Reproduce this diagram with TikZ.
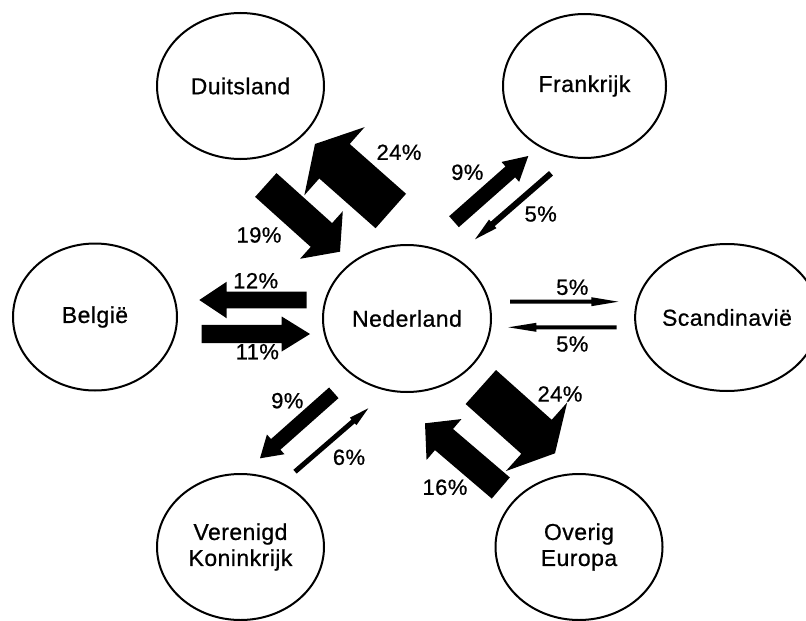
\documentclass[tikz,border=0pt]{standalone}
\usepackage{fontspec}
\setmainfont{Liberation Sans}
\newfontfamily\lblfamily{Liberation Sans}[FakeBold=0.7, LetterSpace=2.0]
\usetikzlibrary{shapes.geometric,calc}

% block arrow: #1 tail, #2 tip, #3 half shaft width, #4 half head width, #5 head length
\newcommand\blockarrow[5]{%
  \coordinate (ba-h) at ($(#2)!#5!(#1)$);
  \fill[black] ($(#1)!#3!90:(#2)$) -- ($(ba-h)!#3!90:(#2)$) -- ($(ba-h)!#4!90:(#2)$)
    -- (#2) -- ($(ba-h)!#4!-90:(#2)$) -- ($(ba-h)!#3!-90:(#2)$) -- ($(#1)!#3!-90:(#2)$) -- cycle;}

\newcommand\namefont{\lblfamily\fontsize{23}{26}\selectfont}
\newcommand\pctfont{\lblfamily\fontsize{22}{24}\selectfont}

\begin{document}
\begin{tikzpicture}[x=1pt,y=-1pt,
  country/.style={ellipse, draw=black, line width=2pt, inner sep=0pt,
    align=center, font=\namefont},
  pct/.style={font=\pctfont, inner sep=0pt}]
\fill[white] (0,0) rectangle (806,621);
\useasboundingbox (0,0) rectangle (806,621);

% countries
\node[country, minimum width=167pt, minimum height=146pt] (dui) at (240.5,86) {Duitsland};
\node[country, minimum width=163pt, minimum height=144pt] (fra) at (584.5,86) {Frankrijk};
\node[country, minimum width=164pt, minimum height=147pt] (bel) at (95,317) {België};
\node[country, minimum width=168pt, minimum height=147pt] (ned) at (407,318.5) {Nederland};
\node[country, minimum width=164pt, minimum height=147pt] (sca) at (727,317.5) {Scandinavië};
\node[country, minimum width=167pt, minimum height=146pt] (vk) at (240.5,547) {Verenigd\\Koninkrijk};
\node[country, minimum width=167pt, minimum height=146pt] (ove) at (579,547) {Overig\\Europa};

% arrow end points
\coordinate (d24-t) at (390.8,211);   \coordinate (d24-h) at (315,144);
\coordinate (d19-t) at (265.8,185);   \coordinate (d19-h) at (340,251.7);
\coordinate (f9-t)  at (454,221.7);   \coordinate (f9-h)  at (528.3,156);
\coordinate (f5-t)  at (551,173.3);   \coordinate (f5-h)  at (475,239.3);
\coordinate (b12-t) at (306.7,300);   \coordinate (b12-h) at (199.3,300);
\coordinate (b11-t) at (201.7,334);   \coordinate (b11-h) at (310,334);
\coordinate (s5a-t) at (510,301.7);   \coordinate (s5a-h) at (618.3,301.7);
\coordinate (s5b-t) at (616.7,327.3); \coordinate (s5b-h) at (508.3,327.3);
\coordinate (v9-t)  at (333.8,392.8); \coordinate (v9-h)  at (260,458.3);
\coordinate (v6-t)  at (295,471.7);   \coordinate (v6-h)  at (368.3,408.3);
\coordinate (o24-t) at (480.8,387);   \coordinate (o24-h) at (555,453.3);
\coordinate (o16-t) at (500.8,488);   \coordinate (o16-h) at (425,423.3);

% trade flows
\blockarrow{d24-t}{d24-h}{23pt}{45.5pt}{26pt}
\blockarrow{d19-t}{d19-h}{16pt}{32pt}{25pt}
\blockarrow{f9-t}{f9-h}{7.3pt}{13.3pt}{24pt}
\blockarrow{f5-t}{f5-h}{3pt}{5.7pt}{23.5pt}
\blockarrow{b12-t}{b12-h}{8.3pt}{18.3pt}{27.4pt}
\blockarrow{b11-t}{b11-h}{9.2pt}{17.5pt}{28.3pt}
\blockarrow{s5a-t}{s5a-h}{2pt}{4.5pt}{27pt}
\blockarrow{s5b-t}{s5b-h}{2pt}{4.5pt}{28pt}
\blockarrow{v9-t}{v9-h}{7.1pt}{13.2pt}{21pt}
\blockarrow{v6-t}{v6-h}{2.5pt}{5pt}{20pt}
\blockarrow{o24-t}{o24-h}{22.8pt}{46pt}{24.8pt}
\blockarrow{o16-t}{o16-h}{13.9pt}{26.9pt}{25pt}

% percentages
\node[pct] (l-d24) at (399,152.3) {24\%};
\node[pct] (l-d19) at (259,235) {19\%};
\node[pct] (l-f9)  at (467.3,172.3) {9\%};
\node[pct] (l-f5)  at (540.7,214) {5\%};
\node[pct] (l-b12) at (255.7,280.7) {12\%};
\node[pct] (l-b11) at (257.3,351.7) {11\%};
\node[pct] (l-s5a) at (572.3,287.3) {5\%};
\node[pct] (l-s5b) at (572.3,344) {5\%};
\node[pct] (l-v9)  at (287.3,400.7) {9\%};
\node[pct] (l-v6)  at (349,457.3) {6\%};
\node[pct] (l-o24) at (560,394) {24\%};
\node[pct] (l-o16) at (445,487.3) {16\%};
\end{tikzpicture}
\end{document}
